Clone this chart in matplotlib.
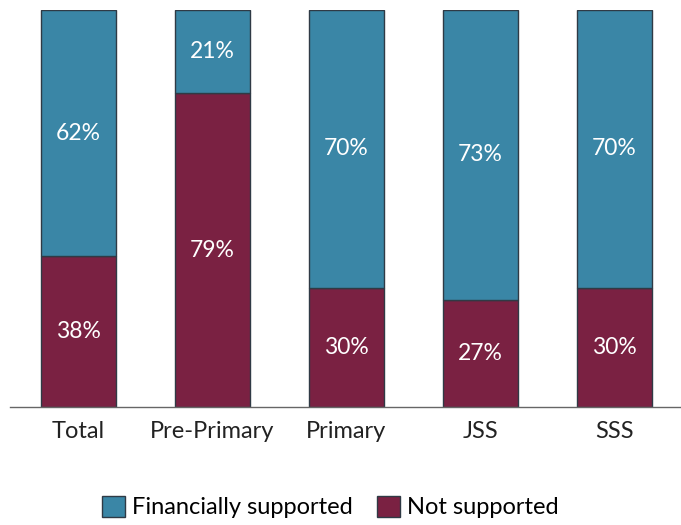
import matplotlib.pyplot as plt
from matplotlib.patches import Patch

categories = ["Total", "Pre-Primary", "Primary", "JSS", "SSS"]
not_supported = [38, 79, 30, 27, 30]
supported = [62, 21, 70, 73, 70]

BLUE = "#3a86a6"
MAROON = "#7a2142"
EDGE = "#2f3a45"

plt.rcParams["font.family"] = ["Lato", "DejaVu Sans"]

fig = plt.figure(figsize=(6.81, 5.25), dpi=100)
ax = fig.add_axes([10 / 681, 118 / 525, 671 / 681, 397 / 525])

x = range(len(categories))
ax.bar(x, not_supported, width=0.56, color=MAROON, edgecolor=EDGE, linewidth=1)
ax.bar(x, supported, bottom=not_supported, width=0.56, color=BLUE,
       edgecolor=EDGE, linewidth=1)

for i, (n, s) in enumerate(zip(not_supported, supported)):
    ax.text(i, n / 2, f"{n}%", ha="center", va="center", color="white", fontsize=16.5)
    ax.text(i, n + s / 2, f"{s}%", ha="center", va="center", color="white", fontsize=16.5)

ax.set_xlim(-0.51, 4.5)
ax.set_ylim(0, 100)
ax.set_xticks(list(x))
ax.set_xticklabels(categories, fontsize=17, color="#222222")
ax.tick_params(axis="x", length=0, pad=10)
ax.set_yticks([])
for side in ["top", "left", "right"]:
    ax.spines[side].set_visible(False)
ax.spines["bottom"].set_color("#666666")
ax.spines["bottom"].set_linewidth(1)

handles = [Patch(facecolor=BLUE, edgecolor=EDGE, label="Financially supported"),
           Patch(facecolor=MAROON, edgecolor=EDGE, label="Not supported")]
fig.legend(handles=handles, loc="center", bbox_to_anchor=(0.485, 18 / 525), ncol=2,
           frameon=False, fontsize=17, handlelength=1.0, handleheight=1.0,
           handletextpad=0.3, columnspacing=1.0)

fig.savefig("out.png", dpi=100)
